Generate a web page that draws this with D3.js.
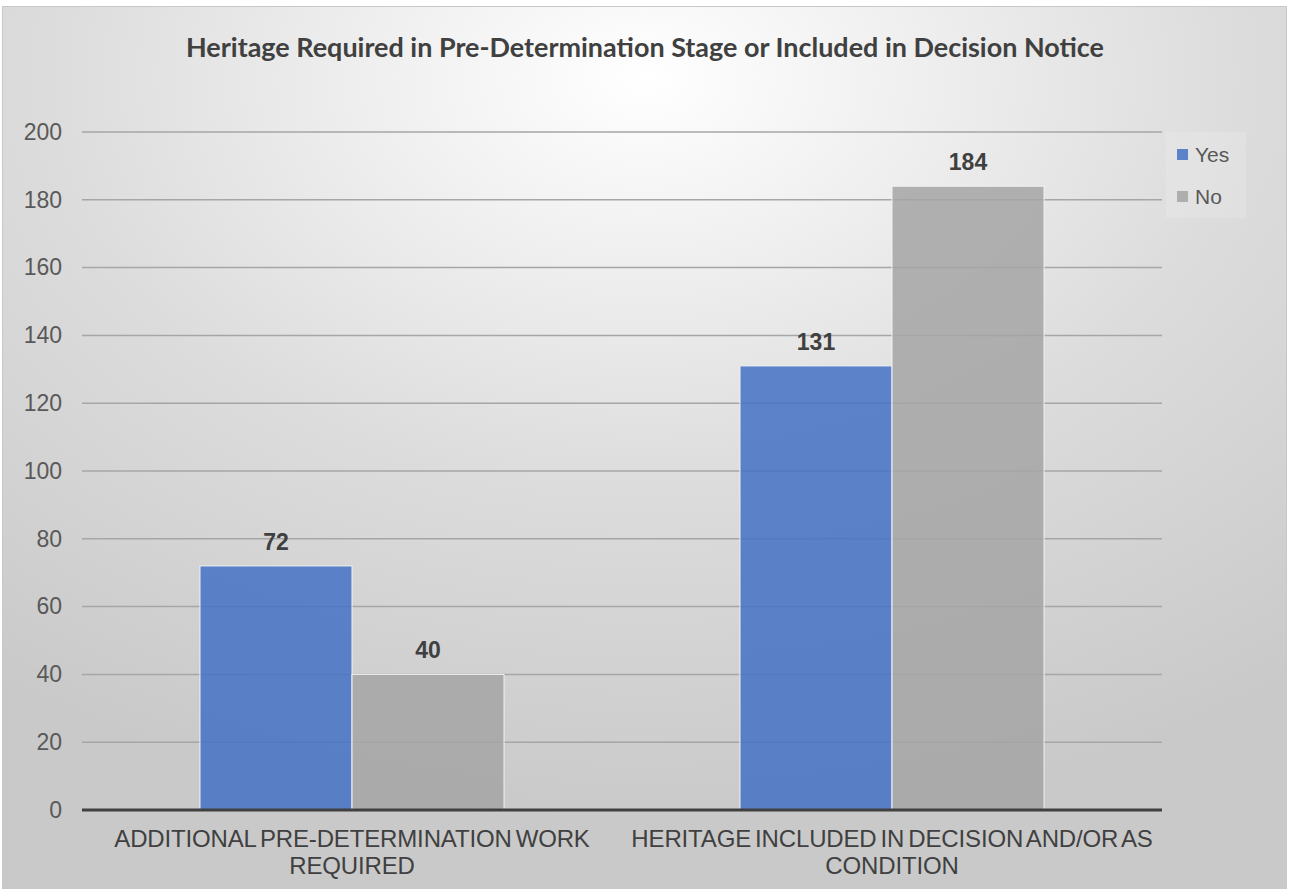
<!DOCTYPE html>
<html>
<head>
<meta charset="utf-8">
<script src="https://cdn.jsdelivr.net/npm/d3@7"></script>
<style>
  body { margin: 0; background: #fff; }
  text { font-family: "Liberation Sans", Arial, sans-serif; }
</style>
</head>
<body>
<div id="chart"></div>
<script>
let categories = [
  ['ADDITIONAL PRE-DETERMINATION WORK', 'REQUIRED'],
  ['HERITAGE INCLUDED IN DECISION AND/OR AS', 'CONDITION']
];
let seriesNames = ['Yes', 'No'];
let yesValues = [72, 131];
let noValues = [40, 184];
let yTicks = [0, 20, 40, 60, 80, 100, 120, 140, 160, 180, 200];
let colors = ['#4472C4', '#A5A5A5'];

let W = 1289, H = 891;
let margin = {top: 132, right: 127, bottom: 81, left: 82};
let width = W - margin.left - margin.right;
let height = H - margin.top - margin.bottom;

let svg = d3.select('#chart')
  .append('svg')
  .attr('width', W)
  .attr('height', H);

let defs = svg.append('defs');
let grad = defs.append('radialGradient')
  .attr('id', 'bg')
  .attr('cx', '50%').attr('cy', '8%').attr('r', '85%')
  .attr('gradientUnits', 'objectBoundingBox');
grad.append('stop').attr('offset', '0%').attr('stop-color', '#ffffff');
grad.append('stop').attr('offset', '55%').attr('stop-color', '#dcdcdc');
grad.append('stop').attr('offset', '100%').attr('stop-color', '#c9c9c9');

svg.append('rect')
  .attr('x', 2.5).attr('y', 6.5)
  .attr('width', W - 5).attr('height', H - 9)
  .attr('fill', 'url(#bg)')
  .attr('stroke', '#c8c8c8')
  .attr('stroke-width', 1);

svg.append('text')
  .attr('x', 645)
  .attr('y', 57)
  .attr('text-anchor', 'middle')
  .attr('textLength', 918)
  .attr('lengthAdjust', 'spacingAndGlyphs')
  .style('font-family', 'Lato, "Open Sans", sans-serif')
  .style('font-weight', 700)
  .style('font-size', '26px')
  .attr('fill', '#404040')
  .text('Heritage Required in Pre-Determination Stage or Included in Decision Notice');

let g = svg.append('g')
  .attr('transform', 'translate(' + margin.left + ',' + margin.top + ')');

let xScale = d3.scaleBand()
  .domain(d3.range(categories.length))
  .range([0, width]);
let xInner = d3.scaleBand()
  .domain(seriesNames)
  .range([0, xScale.bandwidth()])
  .paddingOuter(0.776)
  .paddingInner(0);
let yScale = d3.scaleLinear()
  .domain([0, 200])
  .range([height, 0]);

// grid
g.append('g')
  .selectAll('line')
  .data(yTicks.slice(1))
  .enter()
  .append('line')
  .attr('x1', 0).attr('x2', width)
  .attr('y1', d => yScale(d)).attr('y2', d => yScale(d))
  .attr('stroke', '#a6a6a6')
  .attr('stroke-width', 1.5);

// y labels
let yAxis = d3.axisLeft(yScale).tickValues(yTicks).tickSize(0).tickPadding(20);
let ya = g.append('g').call(yAxis);
ya.select('.domain').remove();
ya.selectAll('text')
  .style('font-size', '23px')
  .attr('fill', '#595959');

let series = [yesValues, noValues];
seriesNames.forEach((name, si) => {
  let vals = series[si];
  g.append('g')
    .selectAll('rect')
    .data(vals)
    .enter()
    .append('rect')
    .attr('x', (d, i) => xScale(i) + xInner(name))
    .attr('y', d => yScale(d))
    .attr('width', xInner.bandwidth())
    .attr('height', d => height - yScale(d))
    .attr('fill', colors[si])
    .attr('fill-opacity', 0.85)
    .attr('stroke', '#f2f2f2')
    .attr('stroke-width', 1);

  g.append('g')
    .selectAll('text')
    .data(vals)
    .enter()
    .append('text')
    .attr('x', (d, i) => xScale(i) + xInner(name) + xInner.bandwidth() / 2)
    .attr('y', d => yScale(d) - 16)
    .attr('text-anchor', 'middle')
    .style('font-size', '23px')
    .style('font-weight', 'bold')
    .attr('fill', '#404040')
    .text(d => d);
});

// x axis line
g.append('line')
  .attr('x1', 0).attr('x2', width)
  .attr('y1', height).attr('y2', height)
  .attr('stroke', '#404040')
  .attr('stroke-width', 3);

// category labels
let cat = g.append('g')
  .selectAll('text')
  .data(categories)
  .enter()
  .append('text')
  .attr('text-anchor', 'middle')
  .attr('x', (d, i) => xScale(i) + xScale.bandwidth() / 2)
  .attr('y', height + 37)
  .style('font-size', '24px')
  .style('word-spacing', '-2.5px')
  .style('letter-spacing', '-0.15px')
  .attr('fill', '#404040');
cat.selectAll('tspan')
  .data(d => d)
  .enter()
  .append('tspan')
  .attr('x', function() { return d3.select(this.parentNode).attr('x'); })
  .attr('dy', (d, i) => i === 0 ? 0 : 27)
  .text(d => d);

// legend
let legend = svg.append('g')
  .attr('transform', 'translate(1166,132)');
legend.append('rect')
  .attr('width', 80).attr('height', 86)
  .attr('fill', '#ffffff')
  .attr('fill-opacity', 0.15);
let item = legend.selectAll('.item')
  .data(seriesNames)
  .enter()
  .append('g')
  .attr('class', 'item')
  .attr('transform', (d, i) => 'translate(0,' + (22 + i * 42) + ')');
item.append('rect')
  .attr('x', 11).attr('y', -5)
  .attr('width', 11).attr('height', 11)
  .attr('fill', (d, i) => colors[i])
  .attr('fill-opacity', 0.85);
item.append('text')
  .attr('x', 29)
  .attr('y', 1)
  .attr('dy', '0.35em')
  .style('font-size', '21px')
  .attr('fill', '#595959')
  .text(d => d);
</script>
</body>
</html>
